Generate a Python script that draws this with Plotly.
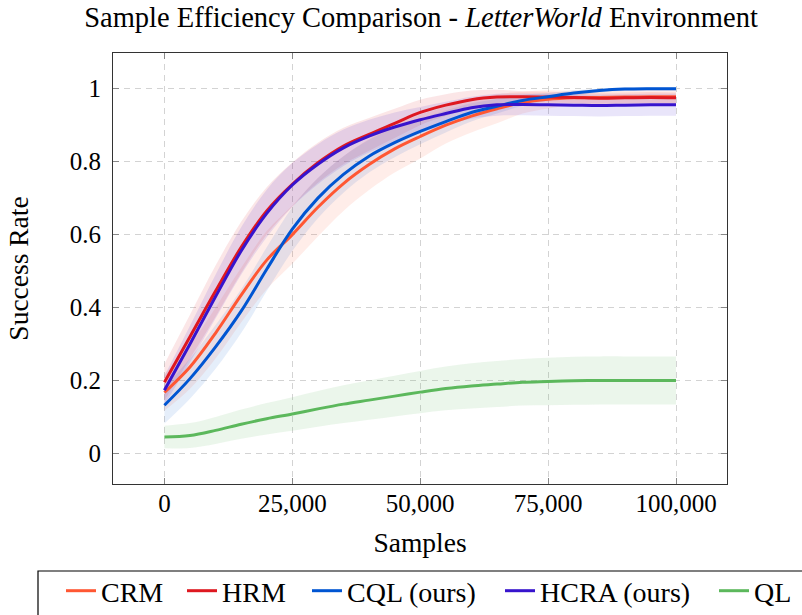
import plotly.graph_objects as go

samples = [0, 5000, 10000, 15000, 20000, 25000, 30000, 35000, 40000, 45000, 50000,
           55000, 60000, 65000, 70000, 75000, 80000, 85000, 90000, 95000, 100000]

crm = [0.167, 0.237, 0.33, 0.434, 0.53, 0.60, 0.675, 0.74, 0.792, 0.835, 0.869,
       0.90, 0.925, 0.945, 0.962, 0.971, 0.975, 0.976, 0.977, 0.978, 0.978]
crm_sd = [0.05, 0.06, 0.07, 0.075, 0.08, 0.08, 0.08, 0.075, 0.07, 0.065, 0.06,
          0.05, 0.045, 0.04, 0.03, 0.025, 0.02, 0.02, 0.02, 0.02, 0.02]

hrm = [0.195, 0.32, 0.445, 0.565, 0.665, 0.738, 0.797, 0.843, 0.875, 0.905, 0.935,
       0.955, 0.970, 0.977, 0.978, 0.977, 0.976, 0.974, 0.975, 0.976, 0.975]
hrm_sd = [0.05, 0.06, 0.07, 0.07, 0.065, 0.06, 0.055, 0.05, 0.045, 0.04, 0.035,
          0.03, 0.025, 0.02, 0.015, 0.015, 0.015, 0.015, 0.015, 0.015, 0.015]

cql = [0.132, 0.205, 0.292, 0.39, 0.505, 0.615, 0.70, 0.765, 0.815, 0.852, 0.883,
       0.91, 0.935, 0.952, 0.968, 0.978, 0.988, 0.995, 0.999, 1.0, 1.0]
cql_sd = [0.05, 0.055, 0.06, 0.06, 0.06, 0.06, 0.055, 0.05, 0.045, 0.04, 0.035,
          0.03, 0.025, 0.02, 0.015, 0.01, 0.008, 0.005, 0.005, 0.005, 0.005]

hcra = [0.173, 0.30, 0.43, 0.555, 0.658, 0.736, 0.793, 0.838, 0.87, 0.895, 0.915,
        0.932, 0.948, 0.956, 0.957, 0.956, 0.955, 0.954, 0.955, 0.956, 0.956]
hcra_sd = [0.04, 0.05, 0.06, 0.065, 0.065, 0.06, 0.055, 0.05, 0.045, 0.04, 0.035,
           0.032, 0.03, 0.03, 0.03, 0.03, 0.03, 0.03, 0.03, 0.03, 0.03]

ql = [0.045, 0.049, 0.063, 0.08, 0.095, 0.108, 0.122, 0.135, 0.146, 0.157, 0.168,
      0.178, 0.185, 0.19, 0.195, 0.197, 0.199, 0.2, 0.2, 0.2, 0.2]
ql_sd = [0.031, 0.034, 0.037, 0.040, 0.043, 0.046, 0.049, 0.052, 0.054, 0.056, 0.058,
         0.06, 0.062, 0.063, 0.064, 0.065, 0.066, 0.066, 0.066, 0.066, 0.066]

names = ["CRM", "HRM", "CQL (ours)", "HCRA (ours)", "QL"]
means = [crm, hrm, cql, hcra, ql]
sds = [crm_sd, hrm_sd, cql_sd, hcra_sd, ql_sd]
colors = ["rgb(255,87,51)", "rgb(222,24,32)", "rgb(0,85,210)", "rgb(55,20,205)", "rgb(92,184,92)"]
fills = ["rgba(255,87,51,0.11)", "rgba(222,24,32,0.11)", "rgba(0,85,210,0.10)",
         "rgba(55,20,205,0.11)", "rgba(92,184,92,0.12)"]

FONT = "Liberation Serif"
W, H = 802, 615
ML, MR, MT, MB = 113, 75, 53, 131
PW, PH = W - ML - MR, H - MT - MB

# legend text left edges in the reference (px)
legend_text_px = [101, 222, 347, 540, 754]
legend_keys = ["legend", "legend2", "legend3", "legend4", "legend5"]

fig = go.Figure()

for m, sd, fcol in zip(means, sds, fills):
    upper = [a + b for a, b in zip(m, sd)]
    lower = [a - b for a, b in zip(m, sd)]
    fig.add_trace(go.Scatter(x=samples, y=lower, mode="lines",
                             line=dict(width=0, shape="spline"),
                             showlegend=False, hoverinfo="skip"))
    fig.add_trace(go.Scatter(x=samples, y=upper, mode="lines", fill="tonexty",
                             fillcolor=fcol, line=dict(width=0, shape="spline"),
                             showlegend=False, hoverinfo="skip"))

for name, m, col, lk in zip(names, means, colors, legend_keys):
    fig.add_trace(go.Scatter(x=samples, y=m, mode="lines", name=name, legend=lk,
                             line=dict(color=col, width=3, shape="spline")))

axis_common = dict(
    showline=True, linecolor="#333333", linewidth=1.2, mirror="allticks",
    ticks="inside", ticklen=6, tickcolor="#888888", tickwidth=1,
    showgrid=True, gridcolor="#d3d3d3", griddash="6px,5px", gridwidth=1,
    zeroline=False, automargin=False,
    tickfont=dict(family=FONT, size=25, color="black"),
)

legend_y = -(591 - (MT + PH)) / PH

layout_legends = {}
for lk, tx in zip(legend_keys, legend_text_px):
    layout_legends[lk] = dict(
        orientation="h", x=(tx - 40 - ML) / PW, xanchor="left",
        y=legend_y, yanchor="middle", borderwidth=0, bgcolor="rgba(0,0,0,0)",
        font=dict(family=FONT, size=28, color="black"))

fig.update_layout(
    width=W, height=H,
    margin=dict(l=ML, r=MR, t=MT, b=MB, autoexpand=False),
    paper_bgcolor="white", plot_bgcolor="white",
    title=dict(text="Sample Efficiency Comparison - <i>LetterWorld</i> Environment",
               x=421 / W, xanchor="center", y=1 - 17 / H, yanchor="middle",
               font=dict(family=FONT, size=28.5, color="black")),
    xaxis=dict(range=[-10050, 109970], tickvals=[0, 25000, 50000, 75000, 100000],
               ticktext=["0", "25,000", "50,000", "75,000", "100,000"],
               ticklabelstandoff=-3,
               title=dict(text="Samples", font=dict(family=FONT, size=27.5, color="black"), standoff=16),
               **axis_common),
    yaxis=dict(range=[-0.084, 1.098], tickvals=[0, 0.2, 0.4, 0.6, 0.8, 1],
               ticktext=["0", "0.2", "0.4", "0.6", "0.8", "1"],
               ticklabelstandoff=6,
               title=dict(text="Success Rate", font=dict(family=FONT, size=27.5, color="black"), standoff=33),
               **axis_common),
    shapes=[dict(type="rect", xref="paper", yref="paper",
                 x0=(38 - ML) / PW, x1=(W + 20 - ML) / PW,
                 y0=-(571 - (MT + PH)) / PH, y1=-(H + 20 - (MT + PH)) / PH,
                 line=dict(color="black", width=1.2), fillcolor="rgba(0,0,0,0)", layer="above")],
    **layout_legends,
)

fig.write_html("out.html")
